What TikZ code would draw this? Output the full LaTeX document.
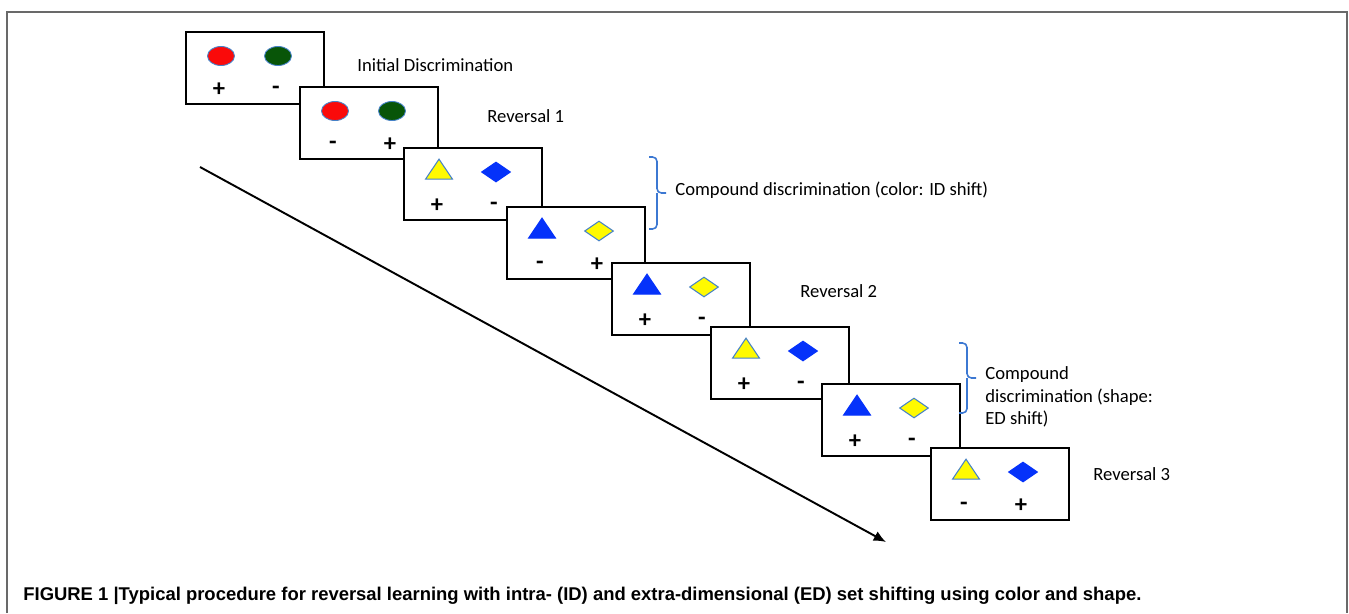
\documentclass[tikz,border=0pt]{standalone}
\usepackage{fontspec}
\setmainfont{Carlito}
\newfontfamily\capfont{Liberation Sans}
\usetikzlibrary{shapes.geometric,arrows.meta}

\definecolor{cardred}{RGB}{250,10,10}
\definecolor{cardgreen}{RGB}{8,85,8}
\definecolor{cardblue}{RGB}{5,50,250}
\definecolor{cardyellow}{RGB}{255,250,0}
\definecolor{edgeblue}{RGB}{70,130,200}
\definecolor{bracketblue}{RGB}{60,120,210}
\definecolor{framegray}{RGB}{105,105,105}

\tikzset{
	card/.style={draw, fill=white, line width=1.1pt, minimum width=2.76cm, minimum height=1.44cm, inner sep=0},
	redcirc/.style={ellipse, fill=cardred, draw=edgeblue, line width=0.5pt, minimum width=0.54cm, minimum height=0.38cm, inner sep=0},
	greencirc/.style={redcirc, fill=cardgreen},
	yeltri/.style={isosceles triangle, isosceles triangle stretches, shape border rotate=90, minimum width=0.54cm, minimum height=0.40cm, inner sep=0, fill=cardyellow, draw=edgeblue, line width=0.6pt},
	bluetri/.style={yeltri, fill=cardblue, draw=cardblue},
	yeldia/.style={diamond, minimum width=0.58cm, minimum height=0.40cm, inner sep=0, fill=cardyellow, draw=edgeblue, line width=0.6pt},
	bluedia/.style={yeldia, fill=cardblue, draw=cardblue},
	sign/.style={font=\fontsize{14}{14}\selectfont\bfseries, inner sep=0},
	stage/.style={anchor=west, font=\fontsize{10.6}{12.7}\selectfont, inner sep=0, align=left},
	bracket/.style={draw=bracketblue, line width=0.9pt, rounded corners=2.5pt}
}

\begin{document}
\begin{tikzpicture}[x=0.02cm, y=-0.02cm]
\useasboundingbox (0,0) rectangle (1349,613);

\draw[framegray, line width=0.85pt] (7,613) -- (7,12) -- (1347,12) -- (1347,613);

% time arrow behind the cards
\coordinate (tstart) at (200,167);
\coordinate (tend) at (886,542);
\draw[line width=1.1pt, -{Latex[length=7pt, width=6pt]}] (tstart) -- (tend);

% the eight cards
\foreach \n/\px/\py/\lshape/\rshape/\lsign/\rsign in {
	1/185/31/redcirc/greencirc/+/-,
	2/299/86/redcirc/greencirc/-/+,
	3/403/147/yeltri/bluedia/+/-,
	4/506/206/bluetri/yeldia/-/+,
	5/611/262/bluetri/yeldia/+/-,
	6/710/326/yeltri/bluedia/+/-,
	7/821/383/bluetri/yeldia/+/-,
	8/930/447/yeltri/bluedia/-/+}
{
\node[card, anchor=north west] (b\n) at (\px,\py) {};
\node[\lshape] (s\n a) at ([shift={(36,25)}]b\n.north west) {};
\node[\rshape] (s\n b) at ([shift={(93,25)}]b\n.north west) {};
\node[sign] (p\n a) at ([shift={(34,59)}]b\n.north west) {\lsign};
\node[sign] (p\n b) at ([shift={(91,59)}]b\n.north west) {\rsign};
}

\node[stage] (l1) at (357,65) {Initial Discrimination};
\node[stage] (l2) at (487,116) {Reversal 1};
\node[stage] (l3) at (675,190) {Compound discrimination (color: ID shift)};
\node[stage] (l4) at (800,291) {Reversal 2};
\node[stage] (l5) at (985,397) {Compound\\discrimination (shape:\\ED shift)};
\node[stage] (l6) at (1093,474) {Reversal 3};

% braces
\draw[bracket] (649,157) -| (657,193) -- (666,193);
\draw[bracket] (649,229) -| (657,193);
\draw[bracket] (959,343) -| (967,378) -- (976,378);
\draw[bracket] (959,413) -| (967,378);

\node[anchor=west, inner sep=0, font=\capfont\bfseries\fontsize{10.5}{12}\selectfont] (cap) at (23,596)
	{FIGURE 1 |Typical procedure for reversal learning with intra- (ID) and extra-dimensional (ED) set shifting using color and shape.};

\end{tikzpicture}
\end{document}
